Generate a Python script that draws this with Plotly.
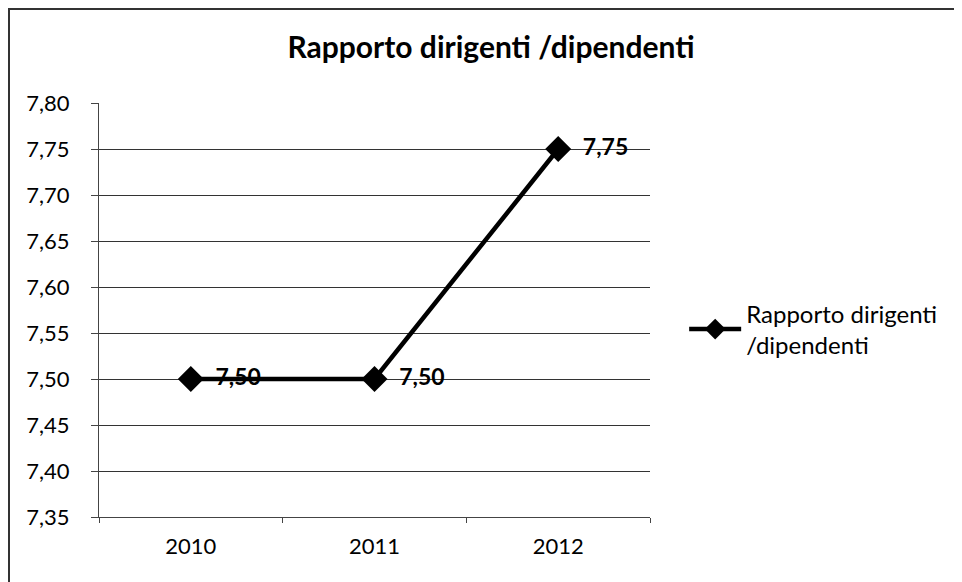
import plotly.graph_objects as go

categories = ["2010", "2011", "2012"]
values = [7.50, 7.50, 7.75]
legend_label = "Rapporto dirigenti<br>/dipendenti"
title_text = "Rapporto dirigenti /dipendenti"
y_ticks = [7.35, 7.40, 7.45, 7.50, 7.55, 7.60, 7.65, 7.70, 7.75, 7.80]

FONT = "Lato, 'Open Sans', sans-serif"

# page body has an 8px margin, so figure coords = screen coords - 8
L, T, R, B = 91, 95, 320, 73
PW = 962 - L - R
PH = 582 - T - B

fig = go.Figure()
fig.add_trace(go.Scatter(
    x=categories, y=values, name=legend_label,
    mode="lines+markers+text",
    line=dict(color="black", width=4.5),
    marker=dict(symbol="diamond", size=20, color="black"),
    texttemplate="  %{y:.2f}",
    textposition="middle right",
    textfont=dict(family=FONT, size=23, color="black", weight="bold"),
))

fig.update_layout(
    width=962, height=582,
    margin=dict(l=L, r=R, t=T, b=B),
    paper_bgcolor="white", plot_bgcolor="white",
    separators=",.",
    title=dict(text="<b>" + title_text + "</b>", x=483/962, xanchor="center",
               y=1 - 39/582, yanchor="middle",
               font=dict(family=FONT, size=30, color="black")),
    font=dict(family=FONT, size=22, color="black"),
    showlegend=True,
    legend=dict(x=1.062, y=0.545, xanchor="left", yanchor="top",
                font=dict(family=FONT, size=24, color="black"),
                bgcolor="rgba(0,0,0,0)", itemwidth=52),
    xaxis=dict(type="category", range=[-0.5, 2.5], showgrid=False,
               showline=True, linecolor="#444", linewidth=1,
               ticks="outside", tickson="boundaries", ticklen=5,
               ticklabelstandoff=10,
               tickcolor="#444", tickfont=dict(family=FONT, size=22, color="black")),
    yaxis=dict(range=[7.35, 7.80], tickvals=y_ticks, tickformat=".2f",
               showgrid=True, gridcolor="#333", gridwidth=1,
               showline=True, linecolor="#444", linewidth=1,
               ticks="outside", ticklen=7, tickcolor="#444",
               ticklabelstandoff=17,
               zeroline=False,
               tickfont=dict(family=FONT, size=22, color="black")),
    shapes=[dict(type="rect", xref="paper", yref="paper",
                 x0=(1 - L) / PW, x1=2.0, y0=-1.0, y1=1 + (T - 1) / PH,
                 line=dict(color="#333", width=2), fillcolor="rgba(0,0,0,0)", layer="below")],
)

fig.write_html("out.html")
